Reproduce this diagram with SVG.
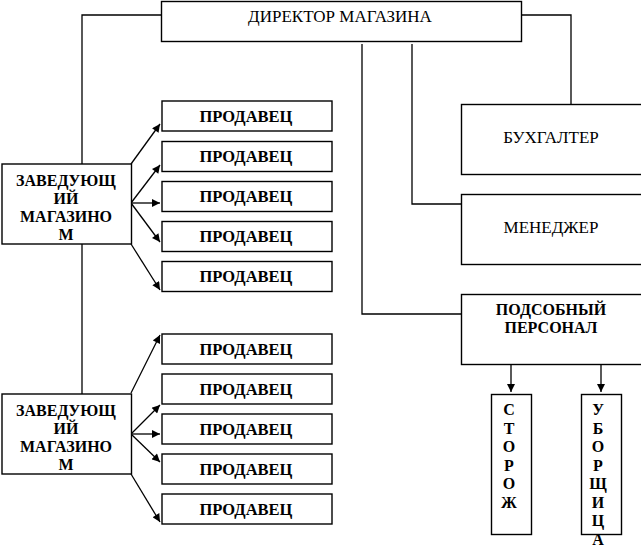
<svg xmlns="http://www.w3.org/2000/svg" width="641" height="548" viewBox="0 0 641 548">
<style>
.box{fill:#fff;stroke:#000;stroke-width:1.4}
.ln{fill:none;stroke:#000;stroke-width:1.3}
.r{font-family:'Liberation Serif','Times New Roman',serif;font-size:17px;text-anchor:middle;fill:#000}
.b{font-family:'Liberation Serif','Times New Roman',serif;font-size:16px;font-weight:bold;text-anchor:middle;fill:#000}
.p{font-size:16.5px}
</style>
<defs>
<marker id="ah" viewBox="0 0 10 10" refX="10" refY="5" markerWidth="9" markerHeight="8" markerUnits="userSpaceOnUse" orient="auto">
<path d="M0,0 L10,5 L0,10 z" fill="#000"/>
</marker>
</defs>
<g id="connectors">
<polyline class="ln" points="161,15 82,15 82,164"/>
<line class="ln" x1="82" y1="244" x2="82" y2="394"/>
<polyline class="ln" points="521,15 571,15 571,104"/>
<polyline class="ln" points="412,44 412,204 461,204"/>
<polyline class="ln" points="362,44 362,314 461,314"/>
<line class="ln" x1="131" y1="164" x2="160" y2="124" marker-end="url(#ah)"/>
<line class="ln" x1="131" y1="203" x2="160" y2="165" marker-end="url(#ah)"/>
<line class="ln" x1="131" y1="203" x2="160" y2="203" marker-end="url(#ah)"/>
<line class="ln" x1="131" y1="203" x2="160" y2="242" marker-end="url(#ah)"/>
<line class="ln" x1="131" y1="244" x2="160" y2="290" marker-end="url(#ah)"/>
<line class="ln" x1="131" y1="393" x2="160" y2="335" marker-end="url(#ah)"/>
<line class="ln" x1="131" y1="434" x2="160" y2="405" marker-end="url(#ah)"/>
<line class="ln" x1="131" y1="434" x2="160" y2="434" marker-end="url(#ah)"/>
<line class="ln" x1="131" y1="434" x2="160" y2="462" marker-end="url(#ah)"/>
<line class="ln" x1="131" y1="474" x2="160" y2="522" marker-end="url(#ah)"/>
<line class="ln" x1="511" y1="364" x2="511" y2="392" marker-end="url(#ah)"/>
<line class="ln" x1="601" y1="364" x2="601" y2="392" marker-end="url(#ah)"/>
</g>
<g id="director">
<rect class="box" x="161.5" y="1.5" width="360" height="40"/>
<text class="r" x="340" y="21.5">ДИРЕКТОР МАГАЗИНА</text>
</g>
<g id="zav1">
<rect class="box" x="2" y="164" width="129.5" height="80"/>
<text class="b" x="66" y="186">ЗАВЕДУЮЩ</text>
<text class="b" x="66" y="204">ИЙ</text>
<text class="b" x="66" y="222">МАГАЗИНО</text>
<text class="b" x="66" y="240">М</text>
</g>
<g id="zav2">
<rect class="box" x="2" y="394" width="129.5" height="80"/>
<text class="b" x="66" y="416">ЗАВЕДУЮЩ</text>
<text class="b" x="66" y="434">ИЙ</text>
<text class="b" x="66" y="452">МАГАЗИНО</text>
<text class="b" x="66" y="470">М</text>
</g>
<g id="prod1"><rect class="box" x="162" y="101" width="170" height="30"/><text class="b p" x="246" y="122">ПРОДАВЕЦ</text></g>
<g id="prod2"><rect class="box" x="162" y="141.5" width="170" height="30"/><text class="b p" x="246" y="162">ПРОДАВЕЦ</text></g>
<g id="prod3"><rect class="box" x="162" y="181.5" width="170" height="30"/><text class="b p" x="246" y="202">ПРОДАВЕЦ</text></g>
<g id="prod4"><rect class="box" x="162" y="221.5" width="170" height="30"/><text class="b p" x="246" y="242">ПРОДАВЕЦ</text></g>
<g id="prod5"><rect class="box" x="162" y="261.5" width="170" height="30"/><text class="b p" x="246" y="282">ПРОДАВЕЦ</text></g>
<g id="prod6"><rect class="box" x="162" y="334" width="170" height="30"/><text class="b p" x="246" y="355">ПРОДАВЕЦ</text></g>
<g id="prod7"><rect class="box" x="162" y="374" width="170" height="30"/><text class="b p" x="246" y="395">ПРОДАВЕЦ</text></g>
<g id="prod8"><rect class="box" x="162" y="414" width="170" height="30"/><text class="b p" x="246" y="435">ПРОДАВЕЦ</text></g>
<g id="prod9"><rect class="box" x="162" y="454" width="170" height="30"/><text class="b p" x="246" y="475">ПРОДАВЕЦ</text></g>
<g id="prod10"><rect class="box" x="162" y="494" width="170" height="30"/><text class="b p" x="246" y="515">ПРОДАВЕЦ</text></g>
<g id="buh">
<rect class="box" x="461.5" y="104.5" width="190" height="70"/>
<text class="r" x="551" y="143">БУХГАЛТЕР</text>
</g>
<g id="manager">
<rect class="box" x="461.5" y="194.5" width="190" height="70"/>
<text class="r" x="551" y="233">МЕНЕДЖЕР</text>
</g>
<g id="podsob">
<rect class="box" x="461.5" y="294.5" width="190" height="70"/>
<text class="b" x="551" y="315">ПОДСОБНЫЙ</text>
<text class="b" x="551" y="333">ПЕРСОНАЛ</text>
</g>
<g id="storozh">
<rect class="box" x="491.5" y="394.5" width="40" height="140"/>
<text class="b" x="509" y="415">С</text>
<text class="b" x="509" y="434">Т</text>
<text class="b" x="509" y="452">О</text>
<text class="b" x="509" y="471">Р</text>
<text class="b" x="509" y="489">О</text>
<text class="b" x="509" y="508">Ж</text>
</g>
<g id="uborshchica">
<rect class="box" x="581.5" y="394.5" width="40" height="140"/>
<text class="b" x="598" y="415">У</text>
<text class="b" x="598" y="434">Б</text>
<text class="b" x="598" y="452">О</text>
<text class="b" x="598" y="471">Р</text>
<text class="b" x="598" y="489">Щ</text>
<text class="b" x="598" y="508">И</text>
<text class="b" x="598" y="526">Ц</text>
<text class="b" x="598" y="545">А</text>
</g>
</svg>
